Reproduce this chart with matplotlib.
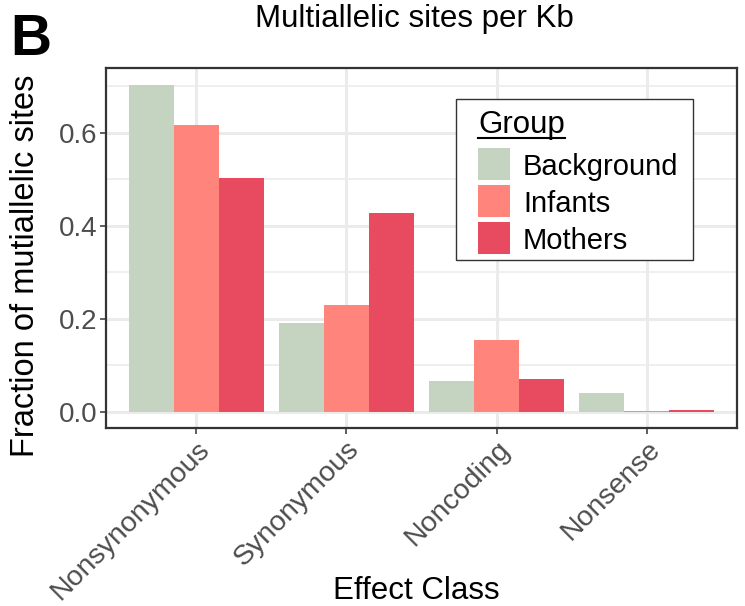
import matplotlib
matplotlib.use("Agg")
import matplotlib.pyplot as plt
import numpy as np
from matplotlib.patches import Rectangle
from matplotlib.lines import Line2D

plt.rcParams['font.family'] = ['Liberation Sans', 'DejaVu Sans']

categories = ["Nonsynonymous", "Synonymous", "Noncoding", "Nonsense"]
groups = ["Background", "Infants", "Mothers"]
background = [0.703, 0.191, 0.065, 0.041]
infants = [0.617, 0.230, 0.153, 0.001]
mothers = [0.503, 0.428, 0.071, 0.003]
colors = ["#C5D4C1", "#FF847C", "#E84A5F"]
yticks = [0.0, 0.2, 0.4, 0.6]

W, H = 745, 606
fig = plt.figure(figsize=(W/100, H/100), dpi=100)
ax = fig.add_axes([106/W, 1-428/H, (737-106)/W, (428-68)/H])

x = np.arange(1, len(categories)+1)
w = 0.3
series = [background, infants, mothers]
for i, (vals, c) in enumerate(zip(series, colors)):
    ax.bar(x + (i-1)*w, vals, width=w, color=c, zorder=3, linewidth=0)

ax.set_xlim(0.4, 4.6)
ax.set_ylim(-0.0352, 0.739)
ax.set_yticks(yticks)
ax.set_yticklabels([f"{v:.1f}" for v in yticks])
ax.set_yticks([0.1, 0.3, 0.5, 0.7], minor=True)
ax.set_xticks(x)
ax.set_xticklabels(categories, rotation=45, ha='right', va='top', rotation_mode='anchor')

ax.grid(which='major', color='#EBEBEB', linewidth=2.2, zorder=0)
ax.grid(which='minor', axis='y', color='#EBEBEB', linewidth=1.1, zorder=0)
ax.tick_params(axis='y', which='major', length=4, width=1.1, color='#333333',
               labelsize=20, labelcolor='#4D4D4D', pad=2)
ax.tick_params(axis='y', which='minor', length=0)
ax.tick_params(axis='x', length=4, width=1.1, color='#333333', labelsize=20.5,
               labelcolor='#4D4D4D', pad=2)
for s in ax.spines.values():
    s.set_color('#333333')
    s.set_linewidth(1.6)

fig.text(416/W, 1-599/H, "Effect Class", fontsize=22.5, ha='center', va='baseline')
fig.text(34/W, 1-266/H, "Fraction of mutiallelic sites", fontsize=23.5,
         rotation=90, rotation_mode='anchor', ha='center', va='baseline')
fig.text(414/W, 1-27/H, "Multiallelic sites per Kb", fontsize=22.5, ha='center', va='baseline')
fig.text(10/W, 1-55/H, "B", fontsize=41, fontweight='bold', ha='left', va='baseline')

# Legend drawn in figure pixel layout
def fx(px):
    return px / W

def fy(py):
    return 1 - py / H

box = Rectangle((fx(456), fy(260)), fx(693) - fx(456), fy(99) - fy(260),
                transform=fig.transFigure, facecolor='white', edgecolor='#333333',
                linewidth=1.0, zorder=20)
fig.add_artist(box)
title = fig.text(fx(478), fy(133), "Group", fontsize=22.5, ha='left', va='baseline', zorder=21)
fig.canvas.draw()
tb = title.get_window_extent(fig.canvas.get_renderer())
fig.add_artist(Line2D([tb.x0/W, tb.x1/W], [fy(138), fy(138)], transform=fig.transFigure,
                      color='black', linewidth=1.5, zorder=21))
row_tops = [148, 185, 222]
for top, g, c in zip(row_tops, groups, colors):
    fig.add_artist(Rectangle((fx(478), fy(top + 32)), fx(510) - fx(478), fy(top) - fy(top + 32),
                             transform=fig.transFigure, facecolor=c, edgecolor='none', zorder=21))
    fig.text(fx(523), fy(top + 27), g, fontsize=21, ha='left', va='baseline', zorder=21)

fig.savefig("out.png", dpi=100)
